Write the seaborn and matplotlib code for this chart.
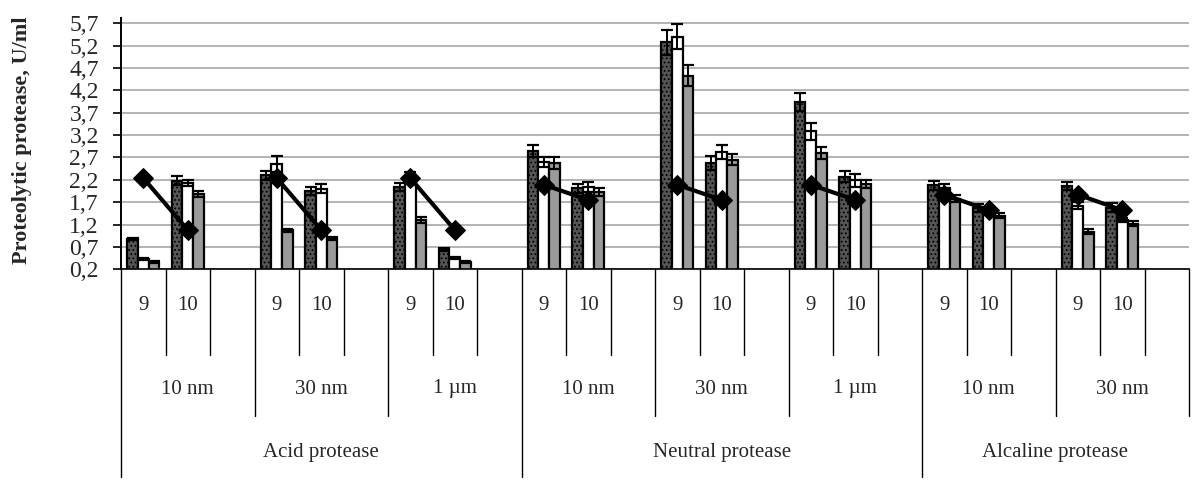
import numpy as np
import pandas as pd
import matplotlib
matplotlib.use("Agg")
import matplotlib.pyplot as plt
import matplotlib.transforms as mtransforms
import seaborn as sns

# --- donnees ---
PROTEASES = ["Acid protease", "Neutral protease", "Alcaline protease"]
SIZES = [["10 nm", "30 nm", "1 µm"], ["10 nm", "30 nm", "1 µm"], ["10 nm", "30 nm"]]
PH = ["9", "10"]

# ordre : (acid 10nm 9, 10), (acid 30nm 9, 10), ... (alcaline 30nm 9, 10)
dark = [0.88, 2.18, 2.30, 1.95, 2.04, 0.65, 2.85, 2.01, 5.27, 2.58, 3.94, 2.27, 2.08, 1.57, 2.06, 1.58]
dark_err = [0.03, 0.10, 0.10, 0.08, 0.08, 0.03, 0.13, 0.10, 0.27, 0.15, 0.20, 0.12, 0.10, 0.08, 0.09, 0.10]
white = [0.43, 2.13, 2.55, 2.00, 2.25, 0.46, 2.60, 2.04, 5.40, 2.82, 3.28, 2.19, 2.02, 1.47, 1.62, 1.30]
white_err = [0.02, 0.07, 0.18, 0.10, 0.12, 0.02, 0.12, 0.12, 0.28, 0.16, 0.19, 0.14, 0.08, 0.05, 0.08, 0.04]
grey = [0.36, 1.88, 1.07, 0.89, 1.30, 0.36, 2.58, 1.93, 4.53, 2.65, 2.80, 2.10, 1.78, 1.40, 1.04, 1.22]
grey_err = [0.02, 0.07, 0.04, 0.03, 0.07, 0.02, 0.13, 0.09, 0.23, 0.13, 0.13, 0.09, 0.07, 0.05, 0.05, 0.05]
line_vals = [2.24, 1.08, 2.24, 1.08, 2.24, 1.08, 2.09, 1.75, 2.09, 1.75, 2.09, 1.75, 1.87, 1.52, 1.87, 1.52]

YTICKS = [0.2, 0.7, 1.2, 1.7, 2.2, 2.7, 3.2, 3.7, 4.2, 4.7, 5.2, 5.7]

sns.set_theme(style="white")
plt.rcParams["font.family"] = ["Liberation Serif", "DejaVu Serif"]
plt.rcParams["hatch.linewidth"] = 0.8

# slots : 9, 10, vide pour chaque sous-groupe
slots, rows, groups = [], [], []
k = 0
for p, sizes in zip(PROTEASES, SIZES):
    for s in sizes:
        for ph in PH + [""]:
            name = f"{p}|{s}|{ph}"
            slots.append(name)
            if ph:
                rows.append((name, len(slots) - 1, k, p, s, ph))
                k += 1
        groups.append((p, s))

series = {"dark": (dark, dark_err), "white": (white, white_err), "grey": (grey, grey_err)}
recs = []
for name, pos, i, p, s, ph in rows:
    for ser, (v, e) in series.items():
        recs.append({"slot": name, "pos": pos, "serie": ser, "val": v[i], "err": e[i],
                     "sub": f"{p}|{s}", "line": line_vals[i]})
df = pd.DataFrame(recs)

fig = plt.figure(figsize=(11.93, 4.92), dpi=100)
ax = fig.add_axes([121 / 1193, 1 - 269.3 / 492, 1068 / 1193, 251 / 492])

pal = {"dark": "#555555", "white": "#ffffff", "grey": "#9a9a9a"}
sns.barplot(data=df, x="slot", y="val", hue="serie", order=slots,
            hue_order=["dark", "white", "grey"], palette=pal, width=0.72,
            errorbar=None, edgecolor="black", linewidth=1.6, legend=False, ax=ax)
for bar in ax.containers[0]:
    bar.set_hatch("....")

offs = {"dark": -0.24, "white": 0.0, "grey": 0.24}
for ser, d in df.groupby("serie"):
    ax.errorbar(d["pos"] + offs[ser], d["val"], yerr=d["err"], fmt="none",
                ecolor="black", elinewidth=1.4, capsize=4.5, capthick=1.6, zorder=3)

sns.lineplot(data=df[df["serie"] == "dark"], x="pos", y="line", units="sub",
             estimator=None, sort=False, color="black", lw=3, marker="D",
             markersize=10, markeredgecolor="black", ax=ax, zorder=4)

ax.set_xlim(-0.5, len(slots) - 0.5)
ax.set_ylim(0.2, 5.81)
ax.set_yticks(YTICKS)
ax.set_yticklabels([f"{t:.1f}".replace(".", ",") for t in YTICKS], fontsize=17)
ax.set_xticks([])
ax.set_xlabel("")
ax.set_ylabel("")
ax.tick_params(axis="y", direction="out", length=6, width=1.2, color="black", pad=10, left=True)
ax.yaxis.grid(True, color="#b3b3b3", lw=1.4)
ax.set_axisbelow(True)
for s in ["top", "right"]:
    ax.spines[s].set_visible(False)
ax.spines["left"].set_color("black")
ax.spines["left"].set_linewidth(1.4)
ax.spines["bottom"].set_color("black")
ax.spines["bottom"].set_linewidth(1.2)

# axe x a trois niveaux
tr = mtransforms.blended_transform_factory(ax.transData, fig.transFigure)
fy = lambda py: 1 - py / 492
y0, y1, y2, y3 = 269.3, 355, 416, 477
for j in range(len(slots) + 1):
    x = j - 0.5
    if j % 9 == 0 and j < len(slots):
        bottom = y3
    elif j % 3 == 0:
        bottom = y2
    else:
        bottom = y1
    ax.plot([x, x], [fy(y0), fy(bottom)], transform=tr, color="black", lw=1.0, clip_on=False)

for j, name in enumerate(slots):
    ph = name.split("|")[2]
    if ph:
        ax.text(j, fy(305), ph, transform=tr, ha="center", va="center", fontsize=15)
for g, (p, s) in enumerate(groups):
    ax.text(3 * g + 1, fy(389), s, transform=tr, ha="center", va="center", fontsize=15)
start = 0
for p, sizes in zip(PROTEASES, SIZES):
    n = 3 * len(sizes)
    ax.text(start + (n - 1) / 2, fy(452), p, transform=tr, ha="center", va="center", fontsize=15)
    start += n

fig.text(22 / 1193, fy(140), "Proteolytic protease, U/ml", rotation=90, ha="center",
         va="center", fontsize=16, fontweight="bold")

fig.savefig("out.png", dpi=100)
